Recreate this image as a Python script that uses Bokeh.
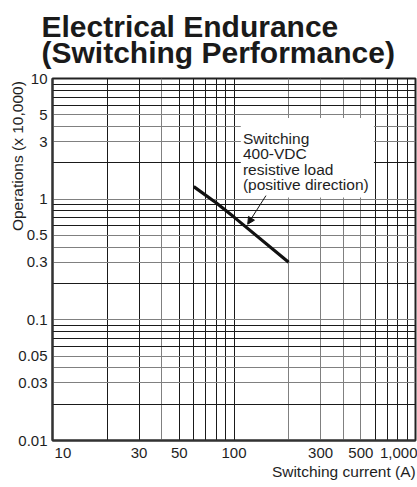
import math
from bokeh.plotting import figure
from bokeh.models import FixedTicker, Label, BoxAnnotation, Arrow, NormalHead, Title
from bokeh.embed import file_html
from bokeh.resources import INLINE

# ---- data ----
current_a = [60, 80, 100, 200]
operations_x10k = [1.27, 0.93, 0.71, 0.30]

x_ticks = [10, 30, 50, 100, 300, 500, 1000]
x_tick_labels = ["10", "30", "50", "100", "300", "500", "1,000"]
y_ticks = [0.01, 0.03, 0.05, 0.1, 0.3, 0.5, 1, 3, 5, 10]
y_tick_labels = ["0.01", "0.03", "0.05", "0.1", "0.3", "0.5", "1", "3", "5", "10"]

x_grid_dark = [20, 30, 50, 60, 70, 80, 90, 100, 600, 700, 800, 900]
x_grid_gray = [40, 200, 300, 400, 500]
y_grid_dark = [0.02, 0.06, 0.07, 0.08, 0.09, 0.2, 0.6, 0.7, 0.8, 0.9, 2, 6, 7, 8, 9]
y_grid_gray = [0.03, 0.04, 0.05, 0.1, 0.3, 0.4, 0.5, 1, 3, 4, 5]

title_lines = ["Electrical Endurance", "(Switching Performance)"]
note_lines = ["Switching", "400-VDC", "resistive load", "(positive direction)"]
x_label = "Switching current (A)"
y_label = "Operations (x 10,000)"

FONT = "Liberation Sans"
TXT = "#1e1e1e"
NB = "\u00a0"

p = figure(width=417, height=487, x_axis_type="log", y_axis_type="log",
           x_range=(10, 1000), y_range=(0.01, 10),
           output_backend="svg", toolbar_location=None,
           min_border_left=52, min_border_right=2, min_border_top=78, min_border_bottom=47)
p.background_fill_color = "white"
p.border_fill_color = "white"
p.outline_line_color = "#222222"
p.outline_line_width = 2

# x axis: the first label sits right of its tick
x_over = {}
for i, (v, t) in enumerate(zip(x_ticks, x_tick_labels)):
    x_over[v] = (NB * 5 + t) if i == 0 else t

xa = p.xaxis[0]
xa.ticker = FixedTicker(ticks=x_ticks, minor_ticks=[])
xa.major_label_overrides = x_over
xa.axis_label = NB * 51 + x_label          # pushed to the right end of the axis
xa.axis_label_standoff = -1
xa.major_label_standoff = 3

ya = p.yaxis[0]
ya.ticker = FixedTicker(ticks=y_ticks, minor_ticks=[])
ya.major_label_overrides = {v: t for v, t in zip(y_ticks, y_tick_labels)}
ya.axis_label = NB * 48 + y_label          # pushed to the top end of the axis
ya.axis_label_standoff = -11
ya.major_label_standoff = 5

for ax in (xa, ya):
    ax.major_tick_line_color = None
    ax.minor_tick_line_color = None
    ax.major_tick_out = 0
    ax.major_tick_in = 0
    ax.axis_line_color = "#333333"
    ax.axis_line_width = 2
    ax.major_label_text_font = FONT
    ax.major_label_text_font_size = "15px"
    ax.major_label_text_color = TXT
    ax.axis_label_text_font = FONT
    ax.axis_label_text_font_size = "15.5px"
    ax.axis_label_text_font_style = "normal"
    ax.axis_label_text_color = TXT

p.xgrid.ticker = FixedTicker(ticks=x_grid_dark, minor_ticks=x_grid_gray)
p.ygrid.ticker = FixedTicker(ticks=y_grid_dark, minor_ticks=y_grid_gray)
for g in (p.xgrid[0], p.ygrid[0]):
    g.grid_line_color = "#1a1a1a"
    g.grid_line_width = 1
    g.minor_grid_line_color = "#808080"
    g.minor_grid_line_width = 1

# curve
p.line(current_a, operations_x10k, line_color="#111111", line_width=3.2)

# white box behind the note
p.add_layout(BoxAnnotation(left=109, right=590, bottom=1.03, top=4.7,
                           fill_color="white", fill_alpha=1.0, line_color=None))
for i, t in enumerate(note_lines):
    p.add_layout(Label(x=112, y=3.18, y_offset=-15.3 * i, text=t,
                       text_font=FONT, text_font_size="15.5px", text_color=TXT,
                       text_baseline="alphabetic", text_align="left"))
p.add_layout(Arrow(end=NormalHead(size=7, fill_color="#111111", line_color="#111111"),
                   x_start=150, y_start=1.07, x_end=119, y_end=0.62,
                   line_color="#111111", line_width=1))

# two-line title
p.add_layout(Title(text="\n".join(title_lines), align="left", offset=-11, standoff=15,
                   vertical_align="top",
                   text_font=FONT, text_font_size="30px", text_font_style="bold",
                   text_line_height=0.8, text_color="#1a1a1a"), "above")

open("out.html", "w").write(file_html(p, INLINE))
